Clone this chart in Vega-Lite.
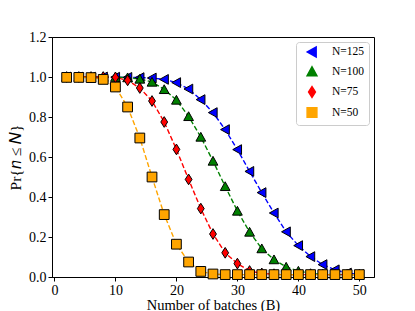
{
  "$schema": "https://vega.github.io/schema/vega-lite/v6.json",
  "width": 322,
  "height": 240,
  "autosize": {"type": "none"},
  "padding": {"left": 52, "top": 37, "right": 41, "bottom": 34},
  "background": "white",
  "config": {
    "view": {"stroke": "black", "strokeWidth": 1},
    "axis": {
      "grid": false,
      "domainColor": "black",
      "tickColor": "black",
      "tickSize": 4,
      "labelColor": "black",
      "labelFont": "Liberation Serif",
      "labelFontSize": 14,
      "titleFont": "Liberation Serif",
      "titleFontSize": 14.5,
      "titleFontWeight": "normal",
      "titleColor": "black"
    },
    "legend": {
      "orient": "top-right",
      "offset": 5,
      "title": null,
      "fillColor": "white",
      "strokeColor": "#cccccc",
      "cornerRadius": 3,
      "padding": 4,
      "labelFont": "Liberation Serif",
      "labelFontSize": 11.5,
      "labelColor": "black",
      "symbolSize": 95,
      "symbolOffset": 6,
      "rowPadding": 3.5,
      "labelOffset": 14
    }
  },
  "data": {
    "values": [
      {"B": 2, "N": "N=125", "p": 1.0}, {"B": 4, "N": "N=125", "p": 1.0}, {"B": 6, "N": "N=125", "p": 1.0}, {"B": 8, "N": "N=125", "p": 1.0},
      {"B": 10, "N": "N=125", "p": 0.999}, {"B": 12, "N": "N=125", "p": 0.998}, {"B": 14, "N": "N=125", "p": 0.997}, {"B": 16, "N": "N=125", "p": 0.995},
      {"B": 18, "N": "N=125", "p": 0.988}, {"B": 20, "N": "N=125", "p": 0.972}, {"B": 22, "N": "N=125", "p": 0.94}, {"B": 24, "N": "N=125", "p": 0.887},
      {"B": 26, "N": "N=125", "p": 0.822}, {"B": 28, "N": "N=125", "p": 0.737}, {"B": 30, "N": "N=125", "p": 0.637}, {"B": 32, "N": "N=125", "p": 0.528},
      {"B": 34, "N": "N=125", "p": 0.422}, {"B": 36, "N": "N=125", "p": 0.32}, {"B": 38, "N": "N=125", "p": 0.226}, {"B": 40, "N": "N=125", "p": 0.157},
      {"B": 42, "N": "N=125", "p": 0.102}, {"B": 44, "N": "N=125", "p": 0.062}, {"B": 46, "N": "N=125", "p": 0.036}, {"B": 48, "N": "N=125", "p": 0.02},
      {"B": 50, "N": "N=125", "p": 0.012},
      {"B": 2, "N": "N=100", "p": 1.0}, {"B": 4, "N": "N=100", "p": 1.0}, {"B": 6, "N": "N=100", "p": 1.0}, {"B": 8, "N": "N=100", "p": 1.0},
      {"B": 10, "N": "N=100", "p": 0.999}, {"B": 12, "N": "N=100", "p": 0.997}, {"B": 14, "N": "N=100", "p": 0.99}, {"B": 16, "N": "N=100", "p": 0.975},
      {"B": 18, "N": "N=100", "p": 0.938}, {"B": 20, "N": "N=100", "p": 0.885}, {"B": 22, "N": "N=100", "p": 0.803}, {"B": 24, "N": "N=100", "p": 0.7},
      {"B": 26, "N": "N=100", "p": 0.58}, {"B": 28, "N": "N=100", "p": 0.453}, {"B": 30, "N": "N=100", "p": 0.33}, {"B": 32, "N": "N=100", "p": 0.225},
      {"B": 34, "N": "N=100", "p": 0.142}, {"B": 36, "N": "N=100", "p": 0.087}, {"B": 38, "N": "N=100", "p": 0.05}, {"B": 40, "N": "N=100", "p": 0.03},
      {"B": 42, "N": "N=100", "p": 0.018}, {"B": 44, "N": "N=100", "p": 0.013}, {"B": 46, "N": "N=100", "p": 0.012}, {"B": 48, "N": "N=100", "p": 0.012},
      {"B": 50, "N": "N=100", "p": 0.012},
      {"B": 2, "N": "N=75", "p": 1.0}, {"B": 4, "N": "N=75", "p": 1.0}, {"B": 6, "N": "N=75", "p": 1.0}, {"B": 8, "N": "N=75", "p": 1.0},
      {"B": 10, "N": "N=75", "p": 0.998}, {"B": 12, "N": "N=75", "p": 0.983}, {"B": 14, "N": "N=75", "p": 0.945}, {"B": 16, "N": "N=75", "p": 0.88},
      {"B": 18, "N": "N=75", "p": 0.775}, {"B": 20, "N": "N=75", "p": 0.638}, {"B": 22, "N": "N=75", "p": 0.488}, {"B": 24, "N": "N=75", "p": 0.342},
      {"B": 26, "N": "N=75", "p": 0.215}, {"B": 28, "N": "N=75", "p": 0.121}, {"B": 30, "N": "N=75", "p": 0.067}, {"B": 32, "N": "N=75", "p": 0.03},
      {"B": 34, "N": "N=75", "p": 0.018}, {"B": 36, "N": "N=75", "p": 0.014}, {"B": 38, "N": "N=75", "p": 0.012}, {"B": 40, "N": "N=75", "p": 0.012},
      {"B": 42, "N": "N=75", "p": 0.012}, {"B": 44, "N": "N=75", "p": 0.012}, {"B": 46, "N": "N=75", "p": 0.012}, {"B": 48, "N": "N=75", "p": 0.012},
      {"B": 50, "N": "N=75", "p": 0.012},
      {"B": 2, "N": "N=50", "p": 0.998}, {"B": 4, "N": "N=50", "p": 0.998}, {"B": 6, "N": "N=50", "p": 0.997}, {"B": 8, "N": "N=50", "p": 0.988},
      {"B": 10, "N": "N=50", "p": 0.95}, {"B": 12, "N": "N=50", "p": 0.85}, {"B": 14, "N": "N=50", "p": 0.695}, {"B": 16, "N": "N=50", "p": 0.5},
      {"B": 18, "N": "N=50", "p": 0.312}, {"B": 20, "N": "N=50", "p": 0.164}, {"B": 22, "N": "N=50", "p": 0.075}, {"B": 24, "N": "N=50", "p": 0.028},
      {"B": 26, "N": "N=50", "p": 0.015}, {"B": 28, "N": "N=50", "p": 0.012}, {"B": 30, "N": "N=50", "p": 0.012}, {"B": 32, "N": "N=50", "p": 0.012},
      {"B": 34, "N": "N=50", "p": 0.012}, {"B": 36, "N": "N=50", "p": 0.012}, {"B": 38, "N": "N=50", "p": 0.012}, {"B": 40, "N": "N=50", "p": 0.012},
      {"B": 42, "N": "N=50", "p": 0.012}, {"B": 44, "N": "N=50", "p": 0.012}, {"B": 46, "N": "N=50", "p": 0.012}, {"B": 48, "N": "N=50", "p": 0.012},
      {"B": 50, "N": "N=50", "p": 0.012}
    ]
  },
  "encoding": {
    "x": {
      "field": "B", "type": "quantitative",
      "scale": {"domain": [-0.4, 52.4], "nice": false, "zero": false},
      "axis": {"values": [0, 10, 20, 30, 40, 50], "title": "Number of batches (B)", "titlePadding": 1, "labelPadding": 2}
    },
    "y": {
      "field": "p", "type": "quantitative",
      "scale": {"domain": [0, 1.2], "nice": false},
      "axis": {"values": [0, 0.2, 0.4, 0.6, 0.8, 1.0, 1.2], "format": ".1f", "title": "Pr{𝑛 ≤ 𝑁}", "titleFontSize": 15.5, "titlePadding": 5, "labelPadding": 2}
    },
    "color": {
      "field": "N", "type": "nominal",
      "scale": {"domain": ["N=125", "N=100", "N=75", "N=50"], "range": ["#0000ff", "#008000", "#ff0000", "#ffa500"]}
    }
  },
  "layer": [
    {
      "mark": {"type": "line", "strokeWidth": 1.4, "strokeDash": [5, 2.4]}
    },
    {
      "mark": {"type": "point", "filled": true, "opacity": 1, "size": 95, "stroke": "black", "strokeWidth": 1},
      "encoding": {
        "shape": {
          "field": "N", "type": "nominal",
          "scale": {"domain": ["N=125", "N=100", "N=75", "N=50"], "range": ["M-0.95,0L0.85,-1L0.85,1Z", "M0,-0.95L1,0.85L-1,0.85Z", "M0,-1.1L0.7,0L0,1.1L-0.7,0Z", "square"]}
        }
      }
    }
  ]
}
